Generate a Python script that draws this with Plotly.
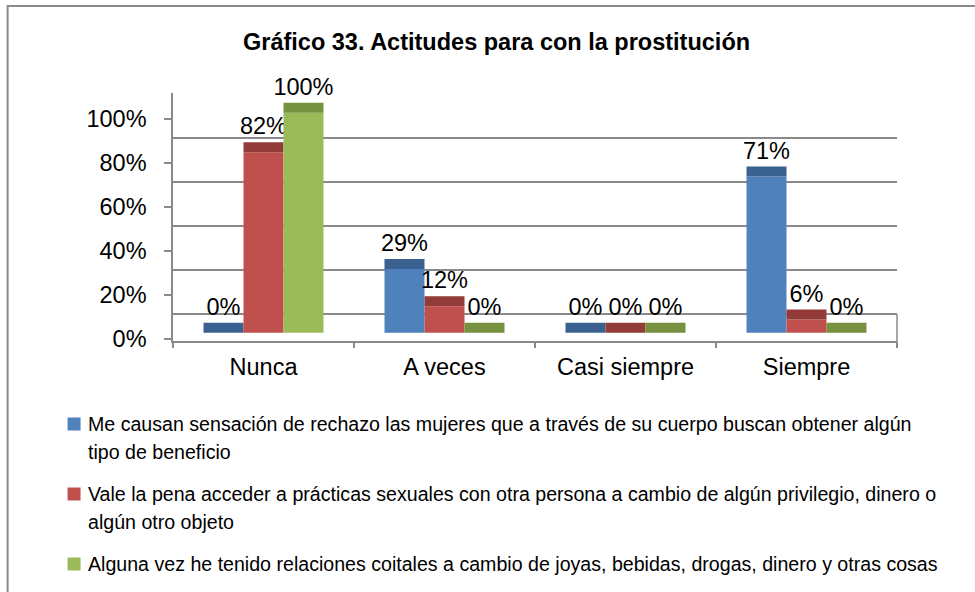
import plotly.graph_objects as go

categories = ["Nunca", "A veces", "Casi siempre", "Siempre"]
series_names = [
    "Me causan sensación de rechazo las mujeres que a través de su cuerpo buscan obtener algún tipo de beneficio",
    "Vale la pena acceder a prácticas sexuales con otra persona a cambio de algún privilegio, dinero o algún otro objeto",
    "Alguna vez he tenido relaciones coitales a cambio de joyas, bebidas, drogas, dinero y otras cosas",
]
legend_lines = [
    ["Me causan sensación de rechazo las mujeres que a través de su cuerpo buscan obtener algún",
     "tipo de beneficio"],
    ["Vale la pena acceder a prácticas sexuales con otra persona a cambio de algún privilegio, dinero o",
     "algún otro objeto"],
    ["Alguna vez he tenido relaciones coitales a cambio de joyas, bebidas, drogas, dinero y otras cosas"],
]
values_rechazo = [0, 29, 0, 71]
values_vale_pena = [82, 12, 0, 6]
values_coitales = [100, 0, 0, 0]
tick_values = [0, 20, 40, 60, 80, 100]
tick_labels = ["0%", "20%", "40%", "60%", "80%", "100%"]

series_values = [values_rechazo, values_vale_pena, values_coitales]
front_colors = ["#4F81BD", "#C0504D", "#9BBB59"]
top_colors = ["#3B6190", "#923B39", "#76913F"]

W, H = 975, 592
L, R, T, B = 172.5, 897.0, 93.0, 341.0
PXU = 2.2            # pixels per percent
BASE_PX = 332.7      # bar baseline pixel (3D depth offset)
TICK0_PX = 339.0     # front axis 0% pixel
GRID0_PX = 314.0     # back wall 0% pixel
DEPTH = 10 / PXU     # visible 3D top-face thickness in axis units

y_lo = -(B - BASE_PX) / PXU
y_hi = (BASE_PX - T) / PXU
tick_shift = (BASE_PX - TICK0_PX) / PXU
grid_shift = (BASE_PX - GRID0_PX) / PXU


def px2x(px):
    return (px - L) / (R - L)


def py2y(py):
    return (B - py) / (B - T)


FONT = "Liberation Sans, Arial, sans-serif"
FS = 23.5

fig = go.Figure()
for i, vals in enumerate(series_values):
    fig.add_trace(go.Bar(
        x=categories, y=vals, base=[0] * len(vals), offsetgroup=str(i),
        marker=dict(color=front_colors[i], line=dict(width=0)),
        name=series_names[i], showlegend=False, hoverinfo="skip",
    ))
    fig.add_trace(go.Bar(
        x=categories, y=[DEPTH] * len(vals), base=vals, offsetgroup=str(i),
        marker=dict(color=top_colors[i], line=dict(width=0)),
        text=[f"{v}%" for v in vals], textposition="outside",
        constraintext="none", cliponaxis=False,
        textfont=dict(family=FONT, size=FS, color="#000000"),
        name=series_names[i], showlegend=False, hoverinfo="skip",
    ))

shapes = [
    # outer chart border
    dict(type="rect", xref="paper", yref="paper",
         x0=px2x(7), x1=px2x(976), y0=py2y(600), y1=py2y(6),
         line=dict(color="#8A8A8A", width=2), fillcolor="rgba(0,0,0,0)", layer="below"),
    # floor right edge
    dict(type="line", xref="paper", yref="paper",
         x0=1, x1=1, y0=py2y(346), y1=py2y(GRID0_PX),
         line=dict(color="#8A8A8A", width=1.5)),
]

annotations = [
    dict(text="<b>Gráfico 33. Actitudes para con la prostitución</b>",
         xref="paper", yref="paper", x=px2x(496), y=py2y(42),
         xanchor="center", yanchor="middle", showarrow=False,
         font=dict(family=FONT, size=FS, color="#000000")),
]

legend_y = [[424, 452], [494, 522], [564]]
for i, lines in enumerate(legend_lines):
    y0 = legend_y[i][0]
    shapes.append(dict(type="rect", xref="paper", yref="paper",
                       x0=px2x(67), x1=px2x(80), y0=py2y(y0 + 6.5), y1=py2y(y0 - 6.5),
                       fillcolor=front_colors[i], line=dict(width=0)))
    for j, line in enumerate(lines):
        annotations.append(dict(text=line, xref="paper", yref="paper",
                                x=px2x(85), y=py2y(legend_y[i][j]),
                                xanchor="left", yanchor="middle", showarrow=False,
                                font=dict(family=FONT, size=19.6, color="#000000")))

fig.update_layout(
    width=W, height=H, autosize=False,
    margin=dict(l=L, r=W - R, t=T, b=H - B, pad=0),
    paper_bgcolor="white", plot_bgcolor="white",
    barmode="group", bargap=0.337, bargroupgap=0,
    showlegend=False,
    xaxis=dict(range=[-0.5, 3.5], showline=True, linecolor="#8A8A8A", linewidth=1.5,
               ticks="outside", tickson="boundaries", ticklen=5, tickcolor="#8A8A8A",
               tickwidth=1.5, showgrid=False, zeroline=False,
               tickfont=dict(family=FONT, size=FS, color="#000000"),
               ticklabelstandoff=4),
    yaxis=dict(range=[y_lo, y_hi], showline=True, linecolor="#8A8A8A", linewidth=1.5,
               tickmode="array", tickvals=[v + tick_shift for v in tick_values],
               ticktext=tick_labels, ticks="outside", ticklen=7, tickcolor="#8A8A8A",
               tickwidth=1.5, showgrid=False, zeroline=False,
               tickfont=dict(family=FONT, size=FS, color="#000000"),
               ticklabelstandoff=13,
               minor=dict(tickmode="array", tickvals=[v + grid_shift for v in tick_values],
                          showgrid=True, gridcolor="#8A8A8A", gridwidth=1.5, ticks="")),
    shapes=shapes,
    annotations=annotations,
)

fig.write_html("out.html", config={"displayModeBar": False},
               post_script="document.body.style.margin='0px';")
